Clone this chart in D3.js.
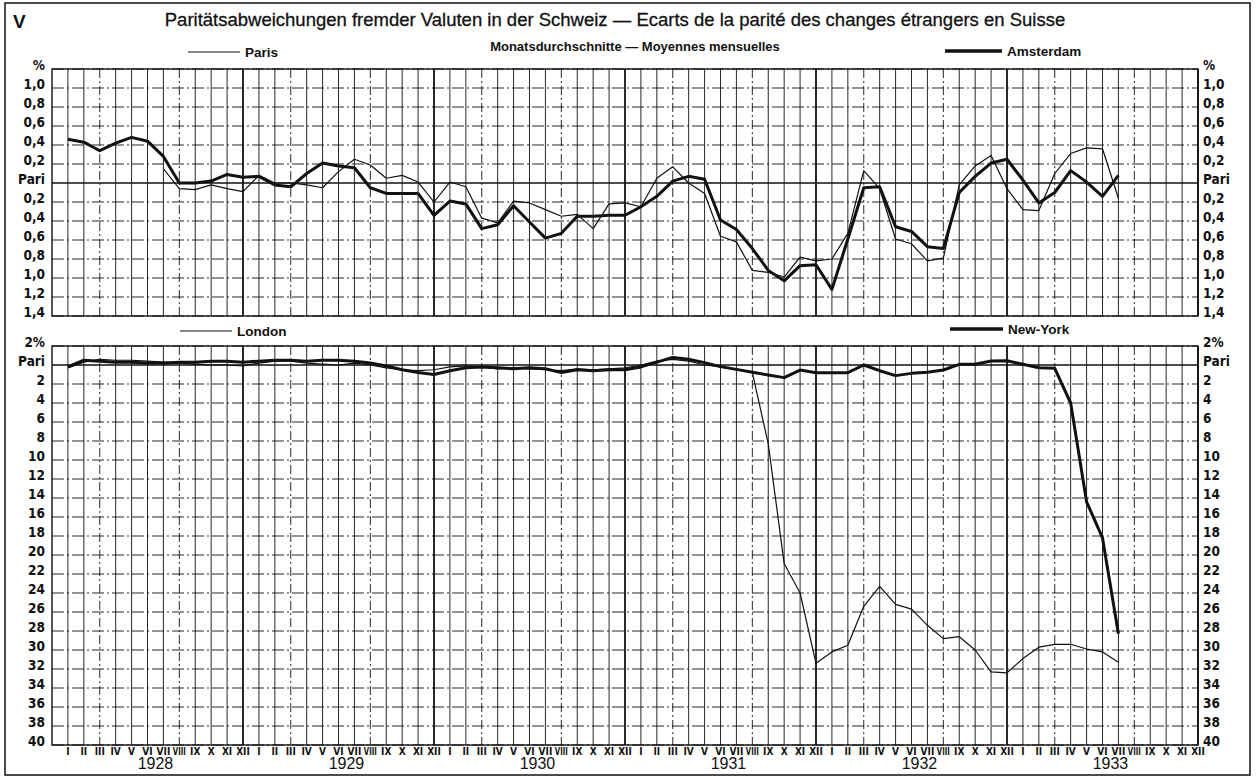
<!DOCTYPE html>
<html>
<head>
<meta charset="utf-8">
<script src="https://cdn.jsdelivr.net/npm/d3@7"></script>
<style>
  body { margin: 0; background: #fff; }
  svg { display: block; }
</style>
</head>
<body>
<div id="chart"></div>
<script>
// month labels and years, 1928 I .. 1933 XII
var monthNames = ['I', 'II', 'III', 'IV', 'V', 'VI', 'VII', 'VIII', 'IX', 'X', 'XI', 'XII'];
var years = [1928, 1929, 1930, 1931, 1932, 1933];

// upper panel: deviation from parity in %, positive = above parity
var paris = [null, null, null, null, null, null,
  0.15, -0.06, -0.07, -0.02, -0.06, -0.09,
  0.08, 0.0, 0.0, -0.02, -0.05, 0.12, 0.25, 0.19, 0.05, 0.08, 0.01, -0.20,
  0.01, -0.04, -0.37, -0.42, -0.19, -0.21, -0.28, -0.35, -0.33, -0.48, -0.22, -0.21,
  -0.25, 0.05, 0.17, 0.0, -0.11, -0.56, -0.62, -0.92, -0.94, -0.99, -0.78, -0.82,
  -0.80, -0.53, 0.13, -0.06, -0.59, -0.64, -0.82, -0.79, -0.02, 0.18, 0.29, -0.06,
  -0.28, -0.29, 0.10, 0.31, 0.37, 0.36, -0.16];
var amsterdam = [0.46, 0.43, 0.34, 0.42, 0.48, 0.44, 0.28, 0.0, 0.0, 0.02, 0.09, 0.06,
  0.07, -0.02, -0.04, 0.10, 0.21, 0.18, 0.16, -0.05, -0.11, -0.11, -0.11, -0.34,
  -0.19, -0.22, -0.48, -0.44, -0.24, -0.41, -0.58, -0.53, -0.35, -0.35, -0.34, -0.34,
  -0.25, -0.14, 0.02, 0.07, 0.04, -0.39, -0.49, -0.69, -0.92, -1.03, -0.87, -0.86,
  -1.12, -0.59, -0.05, -0.04, -0.46, -0.51, -0.67, -0.69, -0.10, 0.07, 0.21, 0.25,
  0.03, -0.21, -0.10, 0.13, 0.01, -0.14, 0.08];

// lower panel: discount below parity in %, positive = below parity
var london = [0.3, -0.3, -0.6, -0.5, -0.5, -0.4, -0.3, -0.2, -0.1, 0.0, 0.0, 0.1,
  -0.2, -0.4, -0.4, -0.2, -0.1, 0.0, -0.2, 0.0, 0.3, 0.5, 0.6, 0.5,
  0.2, 0.1, 0.2, 0.4, 0.3, 0.4, 0.5, 0.6, 0.4, 0.5, 0.4, 0.3,
  0.0, -0.4, -0.6, -0.4, 0.0, 0.2, 0.5, 0.8, 8.3, 20.9, 24.0, 31.4,
  30.2, 29.5, 25.4, 23.3, 25.2, 25.7, 27.4, 28.8, 28.6, 30.0, 32.3, 32.4,
  30.9, 29.7, 29.4, 29.4, 29.9, 30.2, 31.3];
var newYork = [0.2, -0.5, -0.4, -0.3, -0.3, -0.2, -0.2, -0.3, -0.3, -0.4, -0.4, -0.3,
  -0.4, -0.5, -0.5, -0.4, -0.5, -0.5, -0.4, -0.2, 0.1, 0.5, 0.8, 1.0,
  0.6, 0.3, 0.2, 0.3, 0.4, 0.3, 0.4, 0.8, 0.5, 0.6, 0.5, 0.5,
  0.2, -0.3, -0.8, -0.6, -0.25, 0.17, 0.46, 0.77, 1.05, 1.33, 0.53, 0.81,
  0.81, 0.81, 0.0, 0.6, 1.12, 0.88, 0.77, 0.53, -0.07, -0.07, -0.42, -0.45,
  -0.07, 0.28, 0.35, 4.0, 14.4, 18.2, 28.3];

var topTicks = [1.2, 1.0, 0.8, 0.6, 0.4, 0.2, 0, -0.2, -0.4, -0.6, -0.8, -1.0, -1.2, -1.4];
var topTickLabels = ['%', '1,0', '0,8', '0,6', '0,4', '0,2', 'Pari', '0,2', '0,4', '0,6', '0,8', '1,0', '1,2', '1,4'];
var bottomTicks = [-2, 0, 2, 4, 6, 8, 10, 12, 14, 16, 18, 20, 22, 24, 26, 28, 30, 32, 34, 36, 38, 40];
var bottomTickLabels = ['2%', 'Pari', '2', '4', '6', '8', '10', '12', '14', '16', '18', '20',
  '22', '24', '26', '28', '30', '32', '34', '36', '38', '40'];

var W = 1259, H = 777;
var left = 52, right = 1198;
var ink = '#111';
var tickFont = '"Liberation Sans Narrow", "DejaVu Sans Condensed", sans-serif';
var textFont = '"Liberation Sans", Arial, sans-serif';

var svg = d3.select('#chart').append('svg')
  .attr('width', W)
  .attr('height', H);

svg.append('rect')
  .attr('x', 5).attr('y', 3)
  .attr('width', 1245).attr('height', 772)
  .attr('fill', 'none')
  .attr('stroke', ink)
  .attr('stroke-width', 1.5);

var monthCount = years.length * 12;
var x = d3.scaleLinear().domain([-1, monthCount - 1]).range([left, right]);

var yTop = d3.scaleLinear().domain([1.2, -1.4]).range([69, 316]);
var yBottom = d3.scaleLinear().domain([-2, 40]).range([346, 745]);

function drawPanel(y, ticks, labels) {
  var g = svg.append('g');
  var y0 = y.range()[0], y1 = y.range()[1];

  // vertical month lines
  g.selectAll('line.v')
    .data(d3.range(0, monthCount))
    .enter().append('line')
    .attr('x1', function(d) { return x(d); })
    .attr('x2', function(d) { return x(d); })
    .attr('y1', y0).attr('y2', y1)
    .attr('stroke', ink)
    .attr('stroke-width', function(d) { return d % 12 === 11 ? 1.8 : 0.9; })
    .attr('stroke-dasharray', function(d) { return (d % 12 === 2 || d % 12 === 7) ? '9,3,2,3' : null; });

  // horizontal lines
  g.selectAll('line.h')
    .data(ticks)
    .enter().append('line')
    .attr('x1', left).attr('x2', right)
    .attr('y1', function(d) { return y(d); })
    .attr('y2', function(d) { return y(d); })
    .attr('stroke', ink)
    .attr('stroke-width', function(d) { return d === 0 ? 1.4 : 0.9; })
    .attr('stroke-dasharray', function(d) { return d === 0 ? null : '12,3,2,3'; });

  g.append('rect')
    .attr('x', left).attr('y', y0)
    .attr('width', right - left).attr('height', y1 - y0)
    .attr('fill', 'none')
    .attr('stroke', ink)
    .attr('stroke-width', 1.4);

  var fmt = function(d, i) { return labels[i]; };
  var axL = svg.append('g')
    .attr('transform', 'translate(' + (left - 7) + ',-4)')
    .call(d3.axisLeft(y).tickValues(ticks).tickSize(0).tickPadding(0).tickFormat(fmt));
  var axR = svg.append('g')
    .attr('transform', 'translate(' + (right + 5) + ',-4)')
    .call(d3.axisRight(y).tickValues(ticks).tickSize(0).tickPadding(0).tickFormat(fmt));
  [axL, axR].forEach(function(ax) {
    ax.select('.domain').remove();
    ax.selectAll('text')
      .attr('font-family', tickFont)
      .attr('font-size', 13.5)
      .attr('font-weight', 'bold')
      .attr('fill', ink);
  });
}

drawPanel(yTop, topTicks, topTickLabels);
drawPanel(yBottom, bottomTicks, bottomTickLabels);

function drawSeries(values, y, width) {
  var line = d3.line()
    .defined(function(d) { return d !== null; })
    .x(function(d, i) { return x(i); })
    .y(function(d) { return y(d); });
  svg.append('path')
    .datum(values)
    .attr('d', line)
    .attr('fill', 'none')
    .attr('stroke', ink)
    .attr('stroke-width', width)
    .attr('stroke-linejoin', 'round');
}

drawSeries(paris, yTop, 1.2);
drawSeries(amsterdam, yTop, 3);
drawSeries(london, yBottom, 1.2);
drawSeries(newYork, yBottom, 3);

// month + year labels
var allMonths = d3.range(0, monthCount);
svg.append('g').selectAll('text')
  .data(allMonths)
  .enter().append('text')
  .attr('x', function(d) { return x(d); })
  .attr('y', 755)
  .attr('text-anchor', 'middle')
  .attr('font-family', tickFont)
  .attr('font-size', 10)
  .attr('font-weight', 'bold')
  .attr('fill', ink)
  .each(function(d) {
    var name = monthNames[d % 12];
    var t = d3.select(this).text(name);
    if (name.length > 3) {
      t.attr('textLength', 13).attr('lengthAdjust', 'spacingAndGlyphs');
    }
  });

svg.append('g').selectAll('text')
  .data(years)
  .enter().append('text')
  .attr('x', function(d, i) { return x(i * 12 + 5.5); })
  .attr('y', 769)
  .attr('text-anchor', 'middle')
  .attr('font-family', textFont)
  .attr('font-size', 16)
  .attr('fill', ink)
  .text(function(d) { return d; });

// titles
svg.append('text')
  .attr('x', 13).attr('y', 28)
  .attr('font-family', textFont)
  .attr('font-size', 19)
  .attr('font-weight', 'bold')
  .attr('fill', ink)
  .text('V');

svg.append('text')
  .attr('x', 615).attr('y', 26)
  .attr('text-anchor', 'middle')
  .attr('font-family', textFont)
  .attr('font-size', 18.5)
  .attr('fill', ink)
  .attr('stroke', ink)
  .attr('stroke-width', 0.3)
  .text('Paritätsabweichungen fremder Valuten in der Schweiz — Ecarts de la parité des changes étrangers en Suisse');

svg.append('text')
  .attr('x', 635).attr('y', 51)
  .attr('text-anchor', 'middle')
  .attr('font-family', textFont)
  .attr('font-size', 13)
  .attr('font-weight', 'bold')
  .attr('fill', ink)
  .text('Monatsdurchschnitte — Moyennes mensuelles');

// legends
var legends = [
  { name: 'Paris', x1: 188, x2: 240, y: 52, w: 1.2 },
  { name: 'Amsterdam', x1: 945, x2: 1002, y: 51, w: 3.5 },
  { name: 'London', x1: 180, x2: 232, y: 331, w: 1.2 },
  { name: 'New-York', x1: 950, x2: 1003, y: 329, w: 3.5 }
];
legends.forEach(function(l) {
  svg.append('line')
    .attr('x1', l.x1).attr('x2', l.x2)
    .attr('y1', l.y).attr('y2', l.y)
    .attr('stroke', ink)
    .attr('stroke-width', l.w);
  svg.append('text')
    .attr('x', l.x2 + 5).attr('y', l.y + 5)
    .attr('font-family', textFont)
    .attr('font-size', 13.5)
    .attr('font-weight', 'bold')
    .attr('fill', ink)
    .text(l.name);
});
</script>
</body>
</html>
